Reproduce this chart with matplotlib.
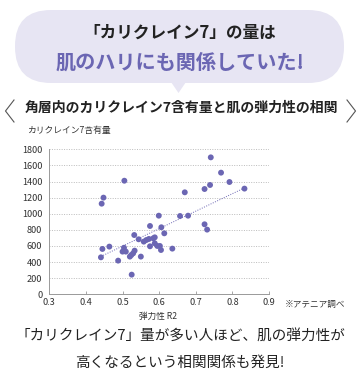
import matplotlib.pyplot as plt
from matplotlib.patches import FancyBboxPatch, Polygon

plt.rcParams['font.family'] = ['Noto Sans CJK JP', 'DejaVu Sans']

# data
elasticity = [0.505, 0.448, 0.443, 0.445, 0.441, 0.464, 0.488, 0.504, 0.500, 0.509,
              0.520, 0.524, 0.529, 0.533, 0.532, 0.525, 0.550, 0.544, 0.558, 0.565,
              0.572, 0.575, 0.575, 0.584, 0.588, 0.588, 0.595, 0.602, 0.605, 0.599,
              0.606, 0.614, 0.636, 0.657, 0.679, 0.670, 0.741, 0.769, 0.792, 0.739,
              0.724, 0.833, 0.724, 0.731]
klk7 = [1410, 1200, 1125, 563, 459, 592, 418, 578, 530, 530,
        468, 488, 509, 542, 736, 244, 468, 683, 654, 674,
        687, 596, 848, 695, 707, 633, 600, 600, 550, 976,
        832, 757, 567, 972, 976, 1266, 1700, 1510, 1394, 1357,
        1307, 1312, 869, 803]
trend_x = [0.441, 0.835]
trend_y = [470, 1325]
x_ticks = [0.3, 0.4, 0.5, 0.6, 0.7, 0.8, 0.9]
y_ticks = [0, 200, 400, 600, 800, 1000, 1200, 1400, 1600, 1800]

purple = '#6b66b3'
lavender = '#e7e5f3'

W, H = 360, 383
fig = plt.figure(figsize=(W / 100, H / 100), dpi=100)

# overlay in pixel coordinates for the decorations
bg = fig.add_axes([0, 0, 1, 1])
bg.set_xlim(0, W)
bg.set_ylim(H, 0)
bg.axis('off')

bg.add_patch(FancyBboxPatch((15, 10), 329, 73, boxstyle='round,pad=0,rounding_size=36',
                            facecolor=lavender, edgecolor='none'))
bg.add_patch(Polygon([(171, 82), (186, 82), (178.5, 93)], closed=True,
                     facecolor=lavender, edgecolor='none'))
bg.text(180, 33, '「カリクレイン7」の量は', ha='center', va='center',
        fontsize=12, fontweight='bold', color='#222222')
bg.text(180, 62, '肌のハリにも関係していた!', ha='center', va='center',
        fontsize=14.5, fontweight='bold', color=purple)

# header with chevrons
bg.plot([14, 5.5, 14], [100, 111, 122], color='#555555', lw=0.8)
bg.plot([347, 355.5, 347], [100, 111, 122], color='#555555', lw=0.8)
bg.text(181, 108, '角層内のカリクレイン7含有量と肌の弾力性の相関', ha='center', va='center',
        fontsize=10, fontweight='bold', color='#222222')

bg.text(27, 131, 'カリクレイン7含有量', ha='left', va='center', fontsize=6.3, color='#333333')
bg.text(285, 304, '※アテニア調べ', ha='left', va='center', fontsize=6.2, color='#333333')
bg.text(158, 316, '弾力性 R2', ha='center', va='center', fontsize=6.2, color='#333333')

bg.text(180, 337, '「カリクレイン7」量が多い人ほど、肌の弾力性が', ha='center', va='center',
        fontsize=10.5, color='#222222')
bg.text(180, 363, '高くなるという相関関係も発見!', ha='center', va='center',
        fontsize=10.5, color='#222222')

# scatter chart
ax = fig.add_axes([49.3 / W, 1 - 294.3 / H, 219.7 / W, 145 / H])
ax.set_xlim(0.3, 0.9)
ax.set_ylim(0, 1800)
for v in y_ticks[1:]:
    ax.axhline(v, color='#bbbbbb', lw=0.7, ls=(0, (1, 1.5)), zorder=1)
ax.plot(trend_x, trend_y, color=purple, lw=0.7, ls=(0, (1, 1.5)), zorder=2)
ax.scatter(elasticity, klk7, s=18, color=purple, edgecolors='none', zorder=3)

ax.set_xticks(x_ticks)
ax.set_xticklabels([f'{t:.1f}' for t in x_ticks])
ax.set_yticks(y_ticks)
ax.tick_params(axis='x', direction='in', length=2, width=0.6, color='#999999',
               labelsize=6.6, labelcolor='#333333', pad=3)
ax.tick_params(axis='y', length=0, labelsize=6.6, labelcolor='#333333', pad=5)
for s in ['top', 'right']:
    ax.spines[s].set_visible(False)
for s in ['left', 'bottom']:
    ax.spines[s].set_color('#999999')
    ax.spines[s].set_linewidth(0.7)
ax.set_facecolor('none')

fig.savefig('out.png', dpi=100)
